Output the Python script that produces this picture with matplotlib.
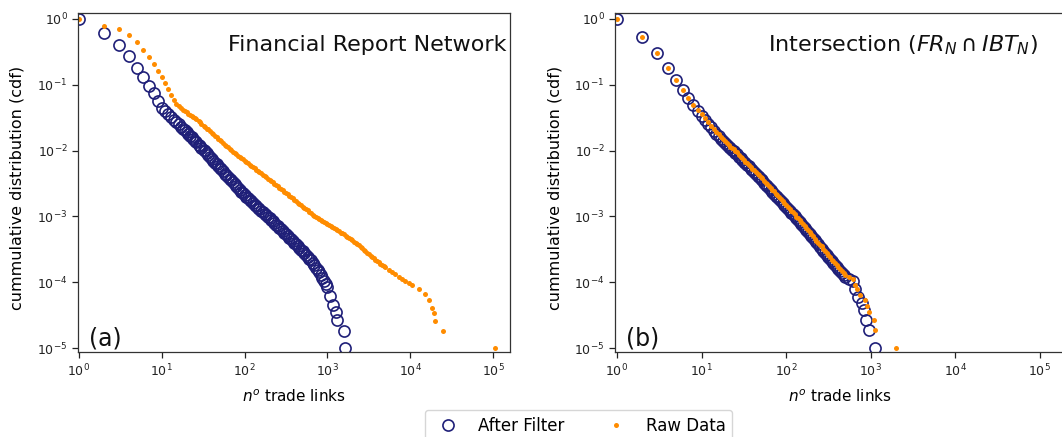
#!/usr/bin/env python
#  -*- coding: utf-8 -*-

import matplotlib
matplotlib.use('Agg')
import matplotlib.pyplot as plt
from matplotlib.ticker import LogLocator

# Data (cumulative degree distributions, log-log)
degree_low = [1, 2, 3, 4, 5, 6, 7, 8, 9]
degree_mid = [10, 11, 12, 13, 14, 15, 16, 17, 18, 19, 20, 21, 22, 23, 24, 25, 26,
              28, 29, 30, 32, 33, 35, 36, 38, 40, 42, 44, 46, 48, 50, 52,
              55, 58, 60, 63, 66, 69, 72, 76, 79, 83, 87, 91, 95, 100,
              105, 110, 115, 120, 126, 132, 138, 145, 151, 158, 166, 174, 182, 191, 200,
              209, 219, 229, 240, 251, 263, 275, 288, 302, 316,
              331, 347, 363, 380, 398, 417, 437, 457, 479, 501]

# (a) Financial Report Network
fr_filter_k = degree_low + degree_mid + [525, 550, 575, 603, 631, 661, 692, 724, 759, 794,
                                         832, 871, 912, 955, 1000, 1070, 1170, 1260, 1300,
                                         1600, 1650]
fr_filter_cdf = [1.0, 0.62, 0.40, 0.27, 0.18, 0.13, 0.097, 0.074, 0.057,
                 0.0450, 0.0399, 0.0357, 0.0323, 0.0294, 0.0270, 0.0249, 0.0232, 0.0216,
                 0.0202, 0.0190, 0.0178, 0.0168, 0.0158, 0.0149, 0.0142, 0.0134,
                 0.0122, 0.0116, 0.0111, 0.0102, 0.0098, 0.00904, 0.00869,
                 0.00805, 0.00750, 0.00701, 0.00656, 0.00617, 0.00582, 0.00550, 0.00520,
                 0.00481, 0.00447, 0.00426, 0.00398, 0.00373, 0.00351, 0.00330, 0.00306,
                 0.00290, 0.00271, 0.00254, 0.00238, 0.00224, 0.00209,
                 0.00197, 0.00187, 0.00177, 0.00169, 0.00160, 0.00151, 0.00144, 0.00136,
                 0.00129, 0.00122, 0.00116, 0.00109, 0.00104, 0.000982, 0.000931,
                 0.000883, 0.000836, 0.000791, 0.000748, 0.000708, 0.000670, 0.000635,
                 0.000601, 0.000568, 0.000537,
                 0.000506, 0.000476, 0.000449, 0.000423, 0.000398, 0.000375, 0.000353,
                 0.000333, 0.000313, 0.000295,
                 0.000277, 0.000259, 0.000243, 0.000228, 0.000214, 0.000197, 0.000181,
                 0.000167, 0.000153, 0.000141, 0.000128, 0.000116, 0.000105, 0.0000933,
                 0.0000832, 0.000062, 0.000045, 0.000035, 0.000027, 0.000018, 0.000010]

fr_raw_k = degree_low + degree_mid + [525, 550, 575, 603, 631, 661, 692, 724, 759, 794,
                                      832, 871, 912, 955, 1000, 1050, 1100, 1150, 1200, 1260,
                                      1320, 1380, 1450, 1510, 1580, 1660, 1740, 1820, 1910,
                                      2000, 2090, 2190, 2290, 2400, 2510, 2630, 2750, 2880,
                                      3020, 3160, 3310, 3470, 3630, 3800, 3980, 4170, 4370,
                                      4570, 4790, 5010, 5500, 6030, 6610, 7240, 7940, 8710,
                                      9550, 10500, 12800, 15200, 16900, 18100, 19500, 20100,
                                      24600, 105000]
fr_raw_cdf = [1.0, 0.79, 0.70, 0.565, 0.44, 0.34, 0.26, 0.205, 0.164,
              0.133, 0.105, 0.085, 0.071, 0.059, 0.051, 0.0470, 0.0444, 0.0420, 0.0399,
              0.0380, 0.0364, 0.0349, 0.0335, 0.0322, 0.0310, 0.0300,
              0.0278, 0.0267, 0.0257, 0.0239, 0.0231, 0.0216, 0.0209,
              0.0197, 0.0186, 0.0176, 0.0167, 0.0159, 0.0151, 0.0145, 0.0138,
              0.0130, 0.0122, 0.0118, 0.0112, 0.0106, 0.0101, 0.00964, 0.00914, 0.00881,
              0.00840, 0.00802, 0.00769, 0.00738, 0.00702,
              0.00670, 0.00640, 0.00614, 0.00589, 0.00561, 0.00537, 0.00514, 0.00491,
              0.00472, 0.00452, 0.00431, 0.00411, 0.00394, 0.00376, 0.00360,
              0.00344, 0.00328, 0.00313, 0.00299, 0.00285, 0.00272, 0.00260, 0.00248,
              0.00236, 0.00225,
              0.00215, 0.00205, 0.00196, 0.00187, 0.00178, 0.00170, 0.00162, 0.00155,
              0.00148, 0.00141,
              0.00135, 0.00128, 0.00123, 0.00117, 0.00111, 0.00106, 0.00102, 0.000986,
              0.000949, 0.000915, 0.000881, 0.000849, 0.000817, 0.000787, 0.000759,
              0.000730, 0.000704, 0.000680, 0.000658, 0.000633, 0.000611, 0.000590,
              0.000568, 0.000550, 0.000531, 0.000511, 0.000491, 0.000470, 0.000450,
              0.000431, 0.000413, 0.000395, 0.000379, 0.000363, 0.000347, 0.000329,
              0.000313, 0.000297, 0.000281, 0.000267, 0.000254, 0.000240, 0.000230,
              0.000220, 0.000210, 0.000201, 0.000192, 0.000184, 0.000176, 0.000168,
              0.000155, 0.000143, 0.000132, 0.000122, 0.000113, 0.000105, 0.0000980,
              0.0000912, 0.000078, 0.000066, 0.000054, 0.000041, 0.000034, 0.000026,
              0.000018, 0.000010]

# (b) Intersection
int_filter_k = degree_low + degree_mid + [560, 616, 660, 720, 790, 830, 890, 950, 1140]
int_filter_cdf = [1.0, 0.53, 0.30, 0.18, 0.118, 0.083, 0.062, 0.049, 0.040,
                  0.0340, 0.0292, 0.0255, 0.0225, 0.0200, 0.0180, 0.0165, 0.0152, 0.0141,
                  0.0131, 0.0122, 0.0115, 0.0108, 0.0102, 0.0097, 0.0092, 0.0088,
                  0.00798, 0.00762, 0.00728, 0.00668, 0.00641, 0.00594, 0.00573,
                  0.00533, 0.00498, 0.00467, 0.00440, 0.00414, 0.00392, 0.00371, 0.00351,
                  0.00324, 0.00301, 0.00287, 0.00268, 0.00251, 0.00236, 0.00222, 0.00206,
                  0.00195, 0.00182, 0.00171, 0.00160, 0.00151, 0.00141,
                  0.00131, 0.00122, 0.00114, 0.00107, 0.000996, 0.000929, 0.000871,
                  0.000809, 0.000761, 0.000711, 0.000661, 0.000616, 0.000576, 0.000536,
                  0.000501,
                  0.000467, 0.000433, 0.000404, 0.000374, 0.000348, 0.000323, 0.000301,
                  0.000280, 0.000259, 0.000241,
                  0.000225, 0.000209, 0.000195, 0.000182, 0.000170, 0.000158, 0.000147,
                  0.000138, 0.000129, 0.000121,
                  0.000112, 0.000105, 0.000078, 0.000060, 0.000048, 0.000038, 0.000027,
                  0.000019, 0.000010]

int_raw_k = degree_low + degree_mid + [560, 616, 660, 700, 760, 870, 900, 960, 1100, 1140, 2020]
int_raw_cdf = [1.0, 0.53, 0.30, 0.18, 0.118, 0.083, 0.063, 0.050, 0.041,
               0.036, 0.031, 0.027, 0.024, 0.0213, 0.0192, 0.0176, 0.0162, 0.0150, 0.0140,
               0.0130, 0.0123, 0.0115, 0.0109, 0.0104, 0.0098, 0.0094,
               0.0085, 0.0081, 0.0078, 0.0071, 0.0068, 0.0064, 0.0061,
               0.0057, 0.0053, 0.0050, 0.0047, 0.0044, 0.0042, 0.0040, 0.0038,
               0.0035, 0.0032, 0.0031, 0.0029, 0.0027, 0.0025, 0.0024, 0.0022, 0.0021,
               0.00195, 0.00183, 0.00172, 0.00162, 0.00151,
               0.00140, 0.00131, 0.00122, 0.00115, 0.00107, 0.00099, 0.00093, 0.00087,
               0.00081, 0.00076, 0.00071, 0.00066, 0.00062, 0.00057, 0.00054,
               0.00050, 0.00046, 0.00043, 0.00040, 0.00037, 0.00035, 0.00032, 0.00030,
               0.00028, 0.00026,
               0.00024, 0.00022, 0.00021, 0.000195, 0.000182, 0.000170, 0.000158,
               0.000148, 0.000138, 0.000130,
               0.000120, 0.000110, 0.000090, 0.000080, 0.000063, 0.000054, 0.000044,
               0.000035, 0.000027, 0.000019, 0.000010]

panel_titles = ['Financial Report Network', r'Intersection ($FR_N \cap IBT_N$)']
panel_tags = ['(a)', '(b)']

blue = '#1f1f78'
orange = '#ff8c00'

fig = plt.figure(figsize=(10.62, 4.37), dpi=100)
ax_a = fig.add_axes([78 / 1062, 85 / 437, 432 / 1062, 339 / 437])
ax_b = fig.add_axes([615 / 1062, 85 / 437, 450 / 1062, 339 / 437])

# axes, data, x-limits, title x (axes fraction), ylabel x (axes fraction)
panels = [(ax_a, fr_filter_k, fr_filter_cdf, fr_raw_k, fr_raw_cdf, (0.973, 1.6e5), 0.993, -0.123),
          (ax_b, int_filter_k, int_filter_cdf, int_raw_k, int_raw_cdf, (0.947, 2.0e5), 0.940, -0.116)]

for i, (ax, fk, fc, rk, rc, xlim, title_x, ylab_x) in enumerate(panels):
    ax.plot(fk, fc, linestyle='none', marker='o', markersize=8, mfc='none',
            mec=blue, mew=1.2, label='After Filter')
    ax.plot(rk, rc, linestyle='none', marker='o', markersize=3.6, mfc=orange,
            mec=orange, mew=0, label='Raw Data')
    ax.set_xscale('log')
    ax.set_yscale('log')
    ax.set_xlim(*xlim)
    ax.set_ylim(8.7e-6, 1.23)
    ax.xaxis.set_major_locator(LogLocator(base=10, numticks=10))
    ax.yaxis.set_major_locator(LogLocator(base=10, numticks=10))
    ax.minorticks_off()
    ax.tick_params(labelsize=9, length=4, width=0.9, colors='#222222')
    for sp in ax.spines.values():
        sp.set_color('#333333')
        sp.set_linewidth(0.9)
    ax.set_xlabel(r'$n^o$ trade links', fontsize=11, labelpad=7)
    ax.set_ylabel('cummulative distribution (cdf)', fontsize=11.5)
    ax.yaxis.set_label_coords(ylab_x, 0.485)
    ax.text(title_x, 0.906, panel_titles[i], transform=ax.transAxes, fontsize=16,
            ha='right', va='center', color='#111111')
    ax.text(0.025, 0.041, panel_tags[i], transform=ax.transAxes, fontsize=17,
            ha='left', va='center', color='#111111')

handles, labels = ax_a.get_legend_handles_labels()
fig.legend(handles, labels, loc='upper center', bbox_to_anchor=(0.5447, 0.0618),
           borderaxespad=0, ncol=2, fontsize=12, columnspacing=2.1, frameon=True)

fig.savefig('out.png', dpi=100)
